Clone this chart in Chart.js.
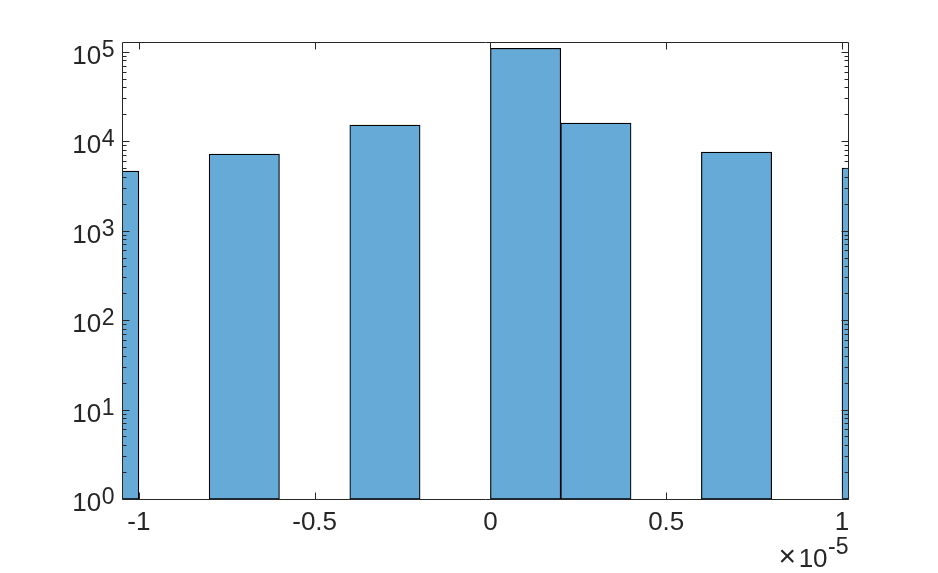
<!DOCTYPE html>
<html>
<head>
<meta charset="utf-8">
<script src="https://cdn.jsdelivr.net/npm/chart.js@4.4.1/dist/chart.umd.min.js"></script>
<style>
  html, body { margin: 0; padding: 0; background: #ffffff; }
  #wrap { width: 938px; height: 573px; position: relative; }
</style>
</head>
<body>
<div id="wrap"><canvas id="c" width="938" height="573"></canvas></div>
<script>
// ---- data (x in units of 1e-5) ----
const binCenters = [-1.1, -0.7, -0.3, 0.1, 0.3, 0.7, 1.1];
const counts = [4620, 7160, 15100, 109000, 15900, 7530, 4990];
const xTickValues = [-1, -0.5, 0, 0.5, 1];
const xTickLabels = ["-1", "-0.5", "0", "0.5", "1"];
const yTickExponents = [0, 1, 2, 3, 4, 5];
const xMultiplierExponent = "-5";

const TEXT = '#262626';
const FONT = '"Liberation Sans", Arial, Helvetica, sans-serif';

const axesPlugin = {
  id: 'matlabAxes',
  afterDatasetsDraw(chart) {
    const ctx = chart.ctx;
    const a = chart.chartArea;
    const xs = chart.scales.x, ys = chart.scales.y;
    const L = Math.round(a.left) - 0.5, R = Math.round(a.right) + 0.5;
    const T = Math.round(a.top) - 0.5, B = Math.round(a.bottom) + 0.5;
    ctx.save();
    ctx.strokeStyle = TEXT;
    ctx.lineWidth = 1;
    // box
    ctx.beginPath();
    ctx.rect(L, T, R - L, B - T);
    ctx.stroke();
    const major = 7, minor = 4;
    ctx.beginPath();
    // x ticks (bottom and top, inward)
    xTickValues.forEach(v => {
      const px = Math.round(xs.getPixelForValue(v)) + 0.5;
      ctx.moveTo(px, B); ctx.lineTo(px, B - major);
      ctx.moveTo(px, T); ctx.lineTo(px, T + major);
    });
    // y ticks (left and right, inward) with log minor ticks
    yTickExponents.forEach(e => {
      for (let m = 1; m <= 9; m++) {
        const val = m * Math.pow(10, e);
        if (val < ys.min || val > ys.max) continue;
        const py = Math.round(ys.getPixelForValue(val)) + 0.5;
        const len = m === 1 ? major : minor;
        ctx.moveTo(L, py); ctx.lineTo(L + len, py);
        ctx.moveTo(R, py); ctx.lineTo(R - len, py);
      }
    });
    ctx.stroke();

    ctx.fillStyle = TEXT;
    // x tick labels
    ctx.font = '26px ' + FONT;
    ctx.textAlign = 'center';
    ctx.textBaseline = 'alphabetic';
    xTickValues.forEach((v, i) => {
      ctx.fillText(xTickLabels[i], xs.getPixelForValue(v), B + 30);
    });
    // y tick labels 10^e
    yTickExponents.forEach(e => {
      const py = ys.getPixelForValue(Math.pow(10, e));
      ctx.font = '23px ' + FONT;
      ctx.textAlign = 'right';
      const ex = String(e);
      const ew = ctx.measureText(ex).width;
      const rightX = L - 8;
      ctx.fillText(ex, rightX, py + 5);
      ctx.font = '26px ' + FONT;
      ctx.fillText('10', rightX - ew - 0.5, py + 12);
    });
    // x multiplier  ×10^-5
    ctx.textAlign = 'right';
    ctx.font = '23px ' + FONT;
    const mw = ctx.measureText(xMultiplierExponent).width;
    ctx.fillText(xMultiplierExponent, R, B + 54);
    ctx.font = '26px ' + FONT;
    ctx.fillText('10', R - mw - 0.5, B + 67);
    const tw = ctx.measureText('10').width;
    ctx.font = '30px ' + FONT;
    ctx.fillText('\u00D7', R - mw - tw - 3, B + 66);
    ctx.restore();
  }
};

new Chart(document.getElementById('c'), {
  type: 'bar',
  data: {
    datasets: [{
      data: binCenters.map((x, i) => ({ x: x, y: counts[i] })),
      backgroundColor: 'rgb(102,170,215)',
      borderColor: '#000000',
      borderWidth: 1.2,
      borderSkipped: false,
      barPercentage: 1,
      categoryPercentage: 1,
      clip: 0
    }]
  },
  options: {
    responsive: false,
    animation: false,
    devicePixelRatio: 1,
    layout: { padding: { left: 123, right: 90, top: 43, bottom: 74 } },
    plugins: { legend: { display: false }, tooltip: { enabled: false } },
    scales: {
      x: {
        type: 'linear',
        display: false,
        offset: false,
        min: -1.045,
        max: 1.017,
        afterBuildTicks: (scale) => { scale.ticks = xTickValues.map(v => ({ value: v })); }
      },
      y: {
        type: 'logarithmic',
        display: false,
        min: 1,
        max: 125000
      }
    }
  },
  plugins: [axesPlugin]
});
</script>
</body>
</html>
